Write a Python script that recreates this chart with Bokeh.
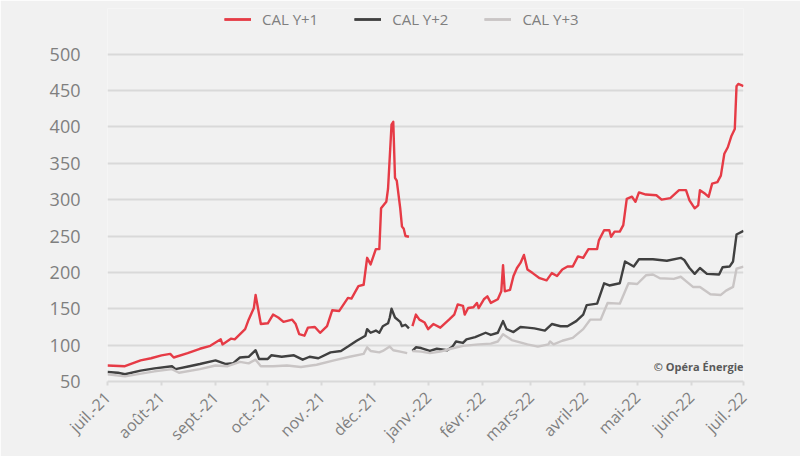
from datetime import datetime
from math import pi
from bokeh.plotting import figure
from bokeh.models import Range1d, FixedTicker, Legend, LegendItem, Label
from bokeh.embed import file_html
from bokeh.resources import INLINE

# ---------------- data ----------------
month_ticks = ["2021-07-01", "2021-08-01", "2021-09-01", "2021-10-01", "2021-11-01", "2021-12-01",
               "2022-01-01", "2022-02-01", "2022-03-01", "2022-04-01", "2022-05-01", "2022-06-01", "2022-07-01"]
month_labels = ["juil.-21", "août-21", "sept.-21", "oct.-21", "nov.-21", "déc.-21",
                "janv.-22", "févr.-22", "mars-22", "avril-22", "mai-22", "juin-22", "juil.-22"]
y_ticks = [50, 100, 150, 200, 250, 300, 350, 400, 450, 500]

# CAL Y+1 (until the year roll-over, then after)
red_a_dates = ["2021-07-01", "2021-07-11", "2021-07-20", "2021-07-26", "2021-08-01", "2021-08-06", "2021-08-08",
               "2021-08-16", "2021-08-23", "2021-08-29", "2021-09-04", "2021-09-05", "2021-09-10", "2021-09-12",
               "2021-09-18", "2021-09-20", "2021-09-23", "2021-09-24", "2021-09-27", "2021-10-01", "2021-10-04",
               "2021-10-07", "2021-10-10", "2021-10-15", "2021-10-17", "2021-10-19", "2021-10-22", "2021-10-24",
               "2021-10-28", "2021-10-31", "2021-11-04", "2021-11-07", "2021-11-11", "2021-11-16", "2021-11-18",
               "2021-11-22", "2021-11-25", "2021-11-27", "2021-11-29", "2021-12-02", "2021-12-04", "2021-12-05",
               "2021-12-08", "2021-12-09", "2021-12-11", "2021-12-12", "2021-12-13", "2021-12-14", "2021-12-16",
               "2021-12-17", "2021-12-18", "2021-12-19", "2021-12-21"]
red_a = [72, 71, 79, 82, 86, 88, 83, 89, 95, 99,
         108, 101, 109, 108, 122, 135, 151, 169, 129, 130,
         142, 138, 132, 135, 129, 115, 113, 124, 125, 117,
         126, 148, 147, 165, 164, 181, 183, 220, 211, 232,
         232, 288, 297, 315, 403, 407, 330, 326, 288, 263,
         260, 250, 249]
red_b_dates = ["2021-12-23", "2021-12-25", "2021-12-27", "2021-12-30", "2022-01-01", "2022-01-04", "2022-01-08",
               "2022-01-13", "2022-01-16", "2022-01-18", "2022-01-21", "2022-01-22", "2022-01-24", "2022-01-27",
               "2022-01-29", "2022-01-30", "2022-02-02", "2022-02-04", "2022-02-06", "2022-02-10", "2022-02-12",
               "2022-02-13", "2022-02-14", "2022-02-17", "2022-02-19", "2022-02-21", "2022-02-23", "2022-02-25",
               "2022-02-27", "2022-03-02", "2022-03-06", "2022-03-10", "2022-03-13", "2022-03-16", "2022-03-19",
               "2022-03-22", "2022-03-25", "2022-03-28", "2022-03-31", "2022-04-03", "2022-04-08", "2022-04-09",
               "2022-04-12", "2022-04-15", "2022-04-16", "2022-04-18", "2022-04-21", "2022-04-23", "2022-04-25",
               "2022-04-28", "2022-04-30", "2022-05-02", "2022-05-06", "2022-05-12", "2022-05-15", "2022-05-20",
               "2022-05-25", "2022-05-29", "2022-05-31", "2022-06-03", "2022-06-05", "2022-06-06", "2022-06-09",
               "2022-06-11", "2022-06-13", "2022-06-16", "2022-06-18", "2022-06-20", "2022-06-22", "2022-06-24",
               "2022-06-26", "2022-06-27", "2022-06-28", "2022-07-01"]
red_b = [126, 142, 135, 131, 122, 129, 124, 135, 142, 156,
         154, 142, 151, 152, 158, 151, 163, 167, 158, 163,
         174, 210, 174, 176, 195, 206, 213, 224, 204, 199,
         192, 189, 199, 195, 204, 208, 208, 222, 220, 232,
         232, 244, 258, 258, 249, 256, 256, 265, 301, 304,
         297, 310, 307, 306, 300, 302, 313, 313, 299, 288,
         292, 313, 308, 304, 322, 324, 333, 363, 372, 387,
         397, 456, 459, 456]

# CAL Y+2
dark_a_dates = ["2021-07-01", "2021-07-07", "2021-07-11", "2021-07-20", "2021-07-28", "2021-08-07", "2021-08-09",
                "2021-08-17", "2021-08-23", "2021-09-01", "2021-09-07", "2021-09-11", "2021-09-15", "2021-09-20",
                "2021-09-24", "2021-09-26", "2021-10-01", "2021-10-03", "2021-10-09", "2021-10-16", "2021-10-21",
                "2021-10-25", "2021-10-30", "2021-11-06", "2021-11-12", "2021-11-16", "2021-11-21", "2021-11-26",
                "2021-11-27", "2021-11-29", "2021-12-02", "2021-12-04", "2021-12-06", "2021-12-09", "2021-12-10",
                "2021-12-11", "2021-12-13", "2021-12-16", "2021-12-17", "2021-12-19", "2021-12-21"]
dark_a = [63, 62, 60, 65, 68, 71, 67, 71, 74, 79,
          74, 75, 83, 84, 93, 81, 81, 86, 84, 86,
          80, 84, 82, 90, 92, 98, 106, 113, 122, 117,
          120, 117, 126, 130, 138, 150, 138, 132, 126, 128,
          123]
dark_b_dates = ["2021-12-23", "2021-12-25", "2021-12-28", "2022-01-02", "2022-01-06", "2022-01-12", "2022-01-15",
                "2022-01-17", "2022-01-21", "2022-01-23", "2022-01-28", "2022-02-03", "2022-02-06", "2022-02-10",
                "2022-02-13", "2022-02-15", "2022-02-19", "2022-02-23", "2022-02-27", "2022-03-03", "2022-03-09",
                "2022-03-13", "2022-03-18", "2022-03-22", "2022-03-27", "2022-03-31", "2022-04-02", "2022-04-08",
                "2022-04-12", "2022-04-15", "2022-04-21", "2022-04-24", "2022-04-29", "2022-05-02", "2022-05-10",
                "2022-05-18", "2022-05-26", "2022-05-28", "2022-05-31", "2022-06-03", "2022-06-06", "2022-06-10",
                "2022-06-17", "2022-06-19", "2022-06-23", "2022-06-25", "2022-06-27", "2022-07-01"]
dark_b = [92, 97, 96, 92, 95, 93, 98, 105, 103, 108,
          111, 117, 114, 117, 133, 122, 118, 125, 124, 123,
          120, 129, 126, 126, 133, 142, 155, 157, 185, 182,
          185, 215, 208, 218, 218, 216, 220, 217, 206, 198,
          206, 198, 197, 207, 208, 215, 252, 257]

# CAL Y+3
light_a_dates = ["2021-07-01", "2021-07-11", "2021-07-28", "2021-08-07", "2021-08-11", "2021-08-23", "2021-09-01",
                 "2021-09-08", "2021-09-15", "2021-09-20", "2021-09-24", "2021-09-27", "2021-10-04", "2021-10-12",
                 "2021-10-20", "2021-10-29", "2021-11-08", "2021-11-17", "2021-11-25", "2021-11-27", "2021-11-29",
                 "2021-12-04", "2021-12-06", "2021-12-10", "2021-12-12", "2021-12-16", "2021-12-20"]
light_a = [60, 57, 64, 67, 62, 67, 72, 71, 77, 75,
           80, 71, 71, 72, 70, 73, 79, 84, 88, 97,
           92, 90, 92, 98, 93, 91, 89]
light_b_dates = ["2021-12-23", "2021-12-28", "2022-01-02", "2022-01-08", "2022-01-14", "2022-01-21", "2022-01-30",
                 "2022-02-06", "2022-02-10", "2022-02-13", "2022-02-18", "2022-02-27", "2022-03-05", "2022-03-11",
                 "2022-03-12", "2022-03-14", "2022-03-19", "2022-03-25", "2022-03-31", "2022-04-04", "2022-04-10",
                 "2022-04-14", "2022-04-21", "2022-04-26", "2022-05-01", "2022-05-06", "2022-05-10", "2022-05-14",
                 "2022-05-22", "2022-05-26", "2022-05-29", "2022-06-02", "2022-06-06", "2022-06-12", "2022-06-18",
                 "2022-06-21", "2022-06-25", "2022-06-27", "2022-07-01"]
light_b = [92, 91, 89, 91, 95, 99, 101, 102, 105, 115,
           107, 101, 98, 101, 105, 101, 106, 110, 122, 135,
           135, 158, 157, 185, 184, 196, 197, 192, 191, 194,
           188, 180, 180, 170, 169, 175, 180, 205, 208]

series_names = ["CAL Y+1", "CAL Y+2", "CAL Y+3"]
colors = ["#e63b46", "#404040", "#c9c5c5"]

# ---------------- layout ----------------
def d(s):
    return datetime.fromisoformat(s)

BG = "#f1f1f1"
TXT = "#7f7f7f"
FONT = "Open Sans"

W, H = 800, 456
FRAME_L, FRAME_R, FRAME_T, FRAME_B = 107, 743, 8, 384   # frame box in page pixels
GRID_TOP_PX = 54                                        # pixel where the 500 gridline sits
px_per_unit = (FRAME_B - GRID_TOP_PX) / (y_ticks[-1] - y_ticks[0])
y_top = y_ticks[-1] + (GRID_TOP_PX - FRAME_T) / px_per_unit

p = figure(width=W, height=H, output_backend="svg", toolbar_location=None,
           x_axis_type="datetime",
           x_range=Range1d(d(month_ticks[0]), d(month_ticks[-1])),
           y_range=Range1d(y_ticks[0], y_top),
           min_border_left=FRAME_L, min_border_right=W - FRAME_R,
           min_border_top=FRAME_T, min_border_bottom=H - FRAME_B)
p.background_fill_color = BG
p.border_fill_color = BG
p.outline_line_color = None

# y axis
p.yaxis.ticker = FixedTicker(ticks=y_ticks)
p.yaxis.axis_line_color = None
p.yaxis.major_tick_line_color = None
p.yaxis.minor_tick_line_color = None
p.yaxis.major_label_text_font = FONT
p.yaxis.major_label_text_font_size = "18px"
p.yaxis.major_label_text_color = TXT
p.yaxis.major_label_standoff = 21
p.ygrid.grid_line_color = "#d9d9d9"
p.ygrid.grid_line_width = 2

# x axis
tick_ms = [d(s).timestamp() * 1000 for s in month_ticks]
p.xaxis.ticker = FixedTicker(ticks=tick_ms)
p.xaxis.major_label_overrides = {t: lab for t, lab in zip(tick_ms, month_labels)}
p.xaxis.major_label_orientation = pi / 4
p.xaxis.axis_line_color = "#d9d9d9"
p.xaxis.axis_line_width = 2
p.xaxis.major_tick_line_color = "#d9d9d9"
p.xaxis.major_tick_line_width = 2
p.xaxis.major_tick_in = 0
p.xaxis.major_tick_out = 4
p.xaxis.minor_tick_line_color = None
p.xaxis.major_label_text_font = FONT
p.xaxis.major_label_text_font_size = "16px"
p.xaxis.major_label_text_color = TXT
p.xaxis.major_label_standoff = 9
p.xgrid.grid_line_color = None

segments = [
    (red_a_dates, red_a, red_b_dates, red_b),
    (dark_a_dates, dark_a, dark_b_dates, dark_b),
    (light_a_dates, light_a, light_b_dates, light_b),
]
items = []
for (da, va, db, vb), name, col in zip(segments, series_names, colors):
    r1 = p.line([d(s) for s in da], va, line_color=col, line_width=2.4, line_join="round")
    r2 = p.line([d(s) for s in db], vb, line_color=col, line_width=2.4, line_join="round")
    items.append(LegendItem(label=name, renderers=[r1, r2]))

# legend sits in the top band of the frame, above the 500 gridline
legend = Legend(items=items, orientation="horizontal", location=(224 - FRAME_L, FRAME_B - 32),
                background_fill_alpha=0, border_line_color=None,
                label_text_font=FONT, label_text_font_size="15px", label_text_color=TXT,
                glyph_width=27, glyph_height=16, label_standoff=11, spacing=36,
                padding=0, margin=0)
p.add_layout(legend, "center")

credit = Label(x=d(month_ticks[-1]), y=y_ticks[0], x_offset=0, y_offset=8,
               text="© Opéra Énergie", text_align="right", text_baseline="bottom",
               text_font=FONT, text_font_size="11px", text_font_style="bold",
               text_color="#595959")
p.add_layout(credit)

open("out.html", "w").write(file_html(p, INLINE))
